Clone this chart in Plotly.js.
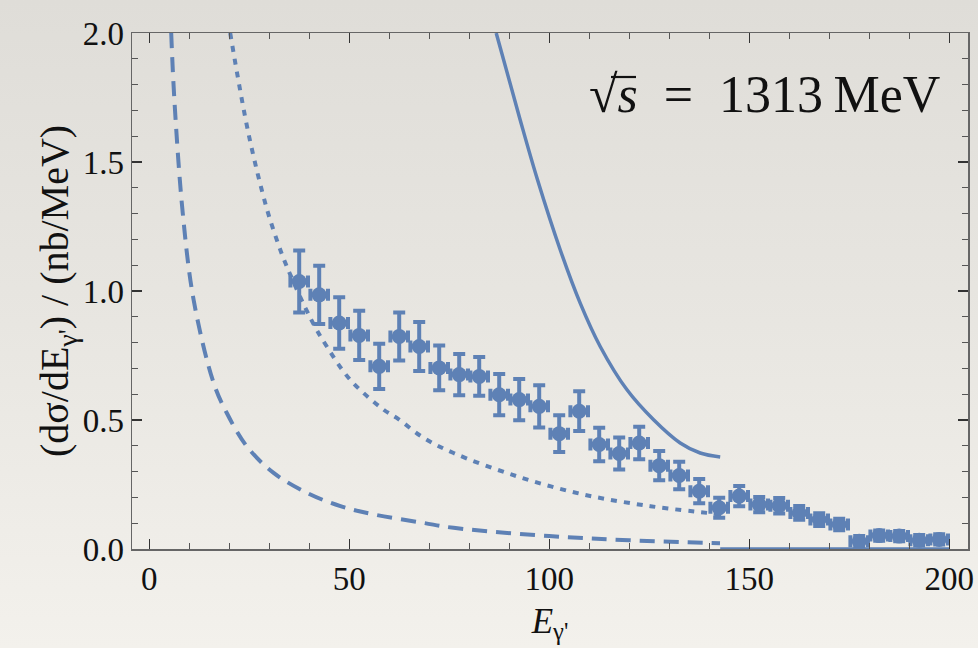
<!DOCTYPE html>
<html><head><meta charset="utf-8">
<script src="https://cdn.plot.ly/plotly-3.0.1.min.js"></script>
<style>
html,body{margin:0;padding:0;width:978px;height:648px;overflow:hidden;}
body{background:linear-gradient(to bottom,#dfddd8 0%,#e8e6e1 50%,#f3f1ec 100%);}
#chart{width:978px;height:648px;}
</style></head><body><div id="chart"></div>
<script>
// measured data points (photon energy bins, MeV)
const dataE = [37.5, 42.5, 47.5, 52.5, 57.5, 62.5, 67.5, 72.5, 77.5, 82.5, 87.5, 92.5, 97.5, 102.5, 107.5, 112.5, 117.5, 122.5, 127.5, 132.5, 137.5, 142.5, 147.5, 152.5, 157.5, 162.5, 167.5, 172.5, 177.5, 182.5, 187.5, 192.5, 197.5];
const dataY = [1.037, 0.985, 0.876, 0.828, 0.708, 0.824, 0.785, 0.702, 0.676, 0.669, 0.598, 0.579, 0.553, 0.447, 0.534, 0.405, 0.370, 0.411, 0.323, 0.285, 0.224, 0.160, 0.205, 0.172, 0.168, 0.140, 0.114, 0.095, 0.030, 0.052, 0.050, 0.034, 0.037];
const dataErrY = [0.12, 0.113, 0.10, 0.095, 0.088, 0.093, 0.095, 0.087, 0.08, 0.075, 0.08, 0.08, 0.082, 0.071, 0.077, 0.065, 0.062, 0.063, 0.057, 0.053, 0.047, 0.039, 0.039, 0.03, 0.03, 0.027, 0.025, 0.022, 0.02, 0.02, 0.02, 0.02, 0.02];
const dataErrE = [2.2, 2.2, 2.2, 2.2, 2.2, 2.2, 2.2, 2.2, 2.2, 2.2, 2.2, 2.2, 2.2, 2.2, 2.2, 2.2, 2.2, 2.2, 2.2, 2.2, 2.2, 2.2, 2.2, 2.2, 2.2, 2.2, 2.2, 2.2, 2.2, 2.2, 2.2, 2.2, 2.2];

// dashed curve
const dashedE = [5.5, 6.3, 8.4, 11.1, 16.1, 19.4, 24.4, 31.1, 39.4, 47.8, 56.1, 68.6, 76.1, 100, 120, 142.7];
const dashedY = [2.0, 1.74, 1.30, 0.966, 0.644, 0.527, 0.398, 0.295, 0.218, 0.166, 0.134, 0.101, 0.082, 0.050, 0.034, 0.022];

// dotted curve
const dottedE = [20.25, 24.8, 29.2, 31.9, 34.4, 40.5, 44.4, 50.25, 58.6, 61.9, 68.6, 76.1, 91.9, 108.6, 125.3, 139.4, 142.7];
const dottedY = [2.0, 1.612, 1.33, 1.198, 1.095, 0.889, 0.785, 0.656, 0.540, 0.508, 0.431, 0.372, 0.282, 0.211, 0.166, 0.140, 0.134];

// solid curve (above threshold) and its zero tail
const solidE = [86.75, 92.75, 97.0, 102.75, 107.75, 112.75, 119.4, 126.1, 132.75, 137.75, 142.75];
const solidY = [2.0, 1.663, 1.435, 1.16, 0.953, 0.785, 0.618, 0.501, 0.411, 0.372, 0.357];
const tailE = [142.75, 200];
const tailY = [0, 0];

const xTickVals = [0, 50, 100, 150, 200];
const xTickText = ['0', '50', '100', '150', '200'];
const yTickVals = [0, 0.5, 1.0, 1.5, 2.0];
const yTickText = ['0.0', '0.5', '1.0', '1.5', '2.0'];

const blue = '#5e81b5';
const serif = '"Liberation Serif", "Times New Roman", "DejaVu Serif", serif';

const traces = [
  {x: dashedE, y: dashedY, mode: 'lines', line: {color: blue, width: 4, dash: '15px,9px', shape: 'spline', smoothing: 1}, hoverinfo: 'skip'},
  {x: dottedE, y: dottedY, mode: 'lines', line: {color: blue, width: 4, dash: '6px,7px', shape: 'spline', smoothing: 1}, hoverinfo: 'skip'},
  {x: solidE, y: solidY, mode: 'lines', line: {color: blue, width: 3.5, shape: 'spline', smoothing: 1}, hoverinfo: 'skip'},
  {x: tailE, y: tailY, mode: 'lines', line: {color: blue, width: 3.5}, hoverinfo: 'skip'},
  {x: dataE, y: dataY, mode: 'markers', marker: {color: blue, size: 15},
   error_y: {type: 'data', array: dataErrY, visible: true, color: blue, thickness: 4, width: 6},
   error_x: {type: 'data', array: dataErrE, visible: true, color: blue, thickness: 4, width: 6}}
];

const tickFont = {family: serif, size: 33, color: '#111'};

const layout = {
  width: 978, height: 648,
  margin: {l: 132, r: 10, t: 33, b: 99},
  paper_bgcolor: 'rgba(0,0,0,0)',
  plot_bgcolor: 'rgba(0,0,0,0)',
  showlegend: false,
  font: {family: serif},
  xaxis: {
    range: [-4.3, 204.7], showgrid: false, zeroline: false,
    showline: true, linecolor: '#666', linewidth: 1.5, mirror: 'ticks',
    ticks: 'inside', ticklen: 10, tickwidth: 1.2, tickcolor: '#333',
    tickvals: xTickVals, ticktext: xTickText, tickfont: tickFont,
    minor: {dtick: 10, tick0: 0, ticks: 'inside', ticklen: 6, tickwidth: 1, tickcolor: '#555', showgrid: false},
    title: {text: '<i>E</i><sub>γ\'</sub>', font: {family: serif, size: 35, color: '#111'}, standoff: 12},
    automargin: false
  },
  yaxis: {
    range: [0, 2], showgrid: false, zeroline: false,
    showline: true, linecolor: '#666', linewidth: 1.5, mirror: 'ticks',
    ticks: 'inside', ticklen: 10, tickwidth: 1.2, tickcolor: '#333',
    tickvals: yTickVals, ticktext: yTickText, tickfont: tickFont,
    minor: {dtick: 0.1, tick0: 0, ticks: 'inside', ticklen: 6, tickwidth: 1, tickcolor: '#555', showgrid: false},
    title: {text: '(dσ/dE<sub>γ\'</sub>) / (nb/MeV)', font: {family: serif, size: 40, color: '#111'}, standoff: 0},
    automargin: false
  },
  annotations: [{
    xref: 'paper', yref: 'paper', x: 0.756, y: 0.88, xanchor: 'center', yanchor: 'middle',
    text: '√<i>s</i>\u2002=\u20021313\u2009MeV', showarrow: false,
    font: {family: serif, size: 52, color: '#111'}
  }],
  shapes: [{
    type: 'line', xref: 'paper', yref: 'paper',
    x0: (611 - 132) / 836, x1: (636 - 132) / 836,
    y0: (549 - 77) / 516, y1: (549 - 77) / 516,
    line: {color: '#111', width: 2.2}
  }]
};

Plotly.newPlot('chart', traces, layout, {staticPlot: true, displayModeBar: false});
</script></body></html>
